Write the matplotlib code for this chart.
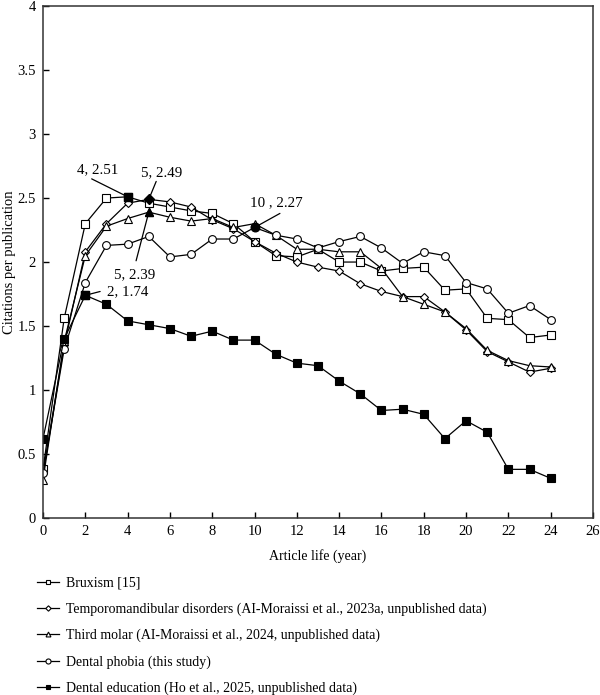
import matplotlib
matplotlib.use("Agg")
import matplotlib.pyplot as plt

plt.rcParams["font.family"] = ["Liberation Serif", "DejaVu Serif"]

years = list(range(25))

bruxism = [0.38, 1.56, 2.30, 2.50, 2.51, 2.46, 2.43, 2.40, 2.38, 2.30, 2.16, 2.05, 2.04, 2.10, 2.00,
           2.00, 1.93, 1.95, 1.96, 1.78, 1.79, 1.56, 1.55, 1.41, 1.43]
tmd = [0.35, 1.35, 2.08, 2.30, 2.46, 2.49, 2.47, 2.43, 2.33, 2.26, 2.16, 2.07, 2.00, 1.96, 1.93,
       1.83, 1.77, 1.73, 1.73, 1.61, 1.47, 1.30, 1.22, 1.14, 1.17]
third_molar = [0.30, 1.38, 2.05, 2.28, 2.34, 2.39, 2.35, 2.32, 2.34, 2.27, 2.30, 2.21, 2.10, 2.10, 2.08,
               2.08, 1.95, 1.73, 1.67, 1.61, 1.48, 1.31, 1.23, 1.19, 1.18]
phobia = [0.35, 1.32, 1.84, 2.13, 2.14, 2.20, 2.04, 2.06, 2.18, 2.18, 2.27, 2.21, 2.18, 2.11, 2.16,
          2.20, 2.11, 1.99, 2.08, 2.05, 1.84, 1.79, 1.60, 1.66, 1.55]
education = [0.62, 1.40, 1.74, 1.67, 1.54, 1.51, 1.48, 1.42, 1.46, 1.39, 1.39, 1.28, 1.21, 1.19, 1.07,
             0.97, 0.84, 0.85, 0.81, 0.62, 0.76, 0.67, 0.38, 0.38, 0.31]

labels = [
    "Bruxism [15]",
    "Temporomandibular disorders (AI-Moraissi et al., 2023a, unpublished data)",
    "Third molar (AI-Moraissi et al., 2024, unpublished data)",
    "Dental phobia (this study)",
    "Dental education (Ho et al., 2025, unpublished data)",
]
series = [bruxism, tmd, third_molar, phobia, education]
markers = ["s", "D", "^", "o", "s"]
msizes = [5.2, 4.2, 5.4, 5.6, 5.4]
filled = [False, False, False, False, True]

# peak annotations: (series index, peak year, label, text pos, line start)
peaks = [
    (0, 4, "4, 2.51", (2.6, 2.72), (2.3, 2.65)),
    (1, 5, "5, 2.49", (5.6, 2.70), (5.35, 2.63)),
    (2, 5, "5, 2.39", (4.35, 1.90), (4.4, 2.01)),
    (4, 2, "2, 1.74", (4.0, 1.77), (2.7, 1.77)),
    (3, 10, "10 , 2.27", (11.05, 2.46), (11.2, 2.38)),
]

fig = plt.figure(figsize=(6, 6.95), dpi=100)
ax = fig.add_axes([0.0717, 0.2547, 0.9166, 0.7365])

for ys, lab, m, ms, f in zip(series, labels, markers, msizes, filled):
    ax.plot(years, ys, color="black", lw=0.9, marker=m, ms=ms,
            mfc="black" if f else "white", mec="black", mew=0.8, label=lab)

for si, yr, txt, tpos, lstart in peaks:
    yv = series[si][yr]
    ax.plot([yr], [yv], marker=markers[si], ms=msizes[si] + 0.6, color="black", mfc="black", ls="none", zorder=5)
    ax.annotate("", xy=(yr, yv), xytext=lstart,
                arrowprops=dict(arrowstyle="-", color="black", lw=0.9, shrinkA=0, shrinkB=0))
    ax.text(tpos[0], tpos[1], txt, ha="center", va="center", fontsize=10.8)

ax.set_xlim(0, 26)
ax.set_ylim(0, 4)
ax.set_xticks(range(0, 27, 2))
ax.set_yticks([0, 0.5, 1, 1.5, 2, 2.5, 3, 3.5, 4])
ax.set_yticklabels(["0", "0.5", "1", "1.5", "2", "2.5", "3", "3.5", "4"])
ax.tick_params(direction="in", length=4, width=1, labelsize=10.5, pad=5)
for s in ax.spines.values():
    s.set_linewidth(1.1)
    s.set_color("#333333")

ax.set_xlabel("Article life (year)", fontsize=10, labelpad=8)
ax.set_ylabel("Citations per publication", fontsize=10.5)
ax.yaxis.set_label_coords(-0.049, 0.5)

fig.legend(loc="upper left", bbox_to_anchor=(0.053, 0.178), frameon=False,
           fontsize=10, handlelength=1.55, handletextpad=0.53, labelspacing=0.92,
           markerscale=0.65, borderaxespad=0)

fig.savefig("out.png", dpi=100)
